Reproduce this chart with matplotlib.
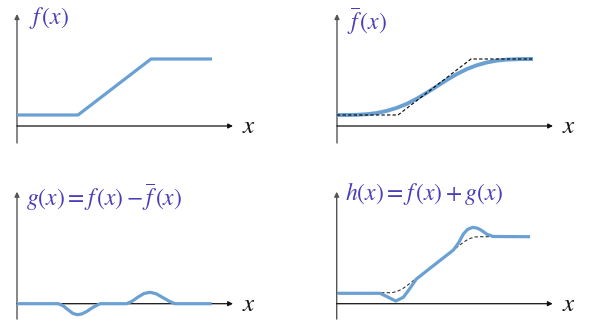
import matplotlib
matplotlib.use("Agg")
import matplotlib.pyplot as plt

plt.rcParams['mathtext.fontset'] = 'stix'

# f(x): flat, ramp, flat
f_x = [0, 3.05, 6.7, 9.75]
f_y = [0.55, 0.55, 3.35, 3.35]

# smoothed f (fbar)
fbar_x = [0, 0.5, 1.0, 1.5, 2.0, 2.5, 3.0, 3.5, 4.0, 4.5, 5.0, 5.5, 6.0, 6.5, 7.0, 7.5, 8.0, 8.5, 9.0, 9.5, 9.8]
fbar_y = [0.55, 0.55, 0.56, 0.59, 0.65, 0.76, 0.91, 1.11, 1.37, 1.67, 1.99, 2.31, 2.6, 2.85, 3.04, 3.18, 3.27, 3.32, 3.34, 3.35, 3.35]

# g(x) = f - fbar (dip at first knee, bump at second)
g_x = [0, 2.07, 2.3, 2.55, 2.8, 3.02, 3.25, 3.5, 3.8, 4.15, 5.48, 5.75, 6.05, 6.35, 6.65, 6.95, 7.25, 7.6, 7.9, 9.73]
g_y = [0, 0, -0.1, -0.3, -0.49, -0.55, -0.51, -0.38, -0.18, 0, 0, 0.12, 0.33, 0.51, 0.57, 0.5, 0.33, 0.13, 0, 0]

# h(x) = f + g
h_x = [0.03, 2.17, 2.58, 2.95, 3.33, 3.6, 3.98, 4.83, 5.83, 6.1, 6.33, 6.55, 6.8, 7.05, 7.25, 7.5, 7.83, 9.67]
h_y = [0.52, 0.52, 0.32, 0.135, 0.32, 0.68, 1.23, 1.9, 2.68, 3.05, 3.48, 3.72, 3.82, 3.77, 3.66, 3.48, 3.36, 3.35]

# lightly rounded f, dashed in the last panel
fr_x = [0, 2.65, 2.85, 3.05, 3.25, 3.45, 6.3, 6.5, 6.7, 6.9, 7.1, 7.8]
fr_y = [0.55, 0.55, 0.569, 0.627, 0.723, 0.857, 3.043, 3.177, 3.273, 3.331, 3.35, 3.35]

titles = [r'$f\,(x)$', r'$\overline{f}\,(x)$',
          r'$g(x) = f\,(x) - \overline{f}\,(x)$', r'$h(x) = f\,(x) + g(x)$']

BLUE = '#6aa0d2'
PURPLE = '#4a3db8'

W, H = 595, 328
fig = plt.figure(figsize=(W / 100, H / 100), dpi=100)

# (left px, top px, origin x px, origin y px) for each quadrant
quads = [(0, 0, 17, 126), (297, 0, 337, 126), (0, 164, 17, 303.7), (297, 164, 336.7, 303.7)]
axes = []
for left, top, ox, oy in quads:
    ax = fig.add_axes([left / W, 1 - (top + 164) / H, 298 / W, 164 / H])
    ax.set_xlim((left - ox) / 20, (left + 298 - ox) / 20)
    ax.set_ylim(-(top + 164 - oy) / 20, (oy - top) / 20)
    ax.axis('off')
    axes.append(ax)

y_bottom = [-0.85, -0.85, -0.77, -0.77]
title_pos = [(0.6, 5.38), (0.5, 5.25), (0.45, 5.32), (0.4, 5.49)]

for i, ax in enumerate(axes):
    ax.annotate('', xy=(0, 5.6), xytext=(0, y_bottom[i]),
                arrowprops=dict(arrowstyle='-|>', color='#555555', lw=1.0, mutation_scale=7, shrinkA=0, shrinkB=0))
    ax.annotate('', xy=(10.8, 0), xytext=(0, 0),
                arrowprops=dict(arrowstyle='-|>', color='#111111', lw=0.9, mutation_scale=7, shrinkA=0, shrinkB=0))
    ax.text(11.6, 0, r'$x$', fontsize=18, color='#111111', ha='center', va='center')
    tx, ty = title_pos[i]
    ax.text(tx, ty, titles[i], fontsize=17, color=PURPLE, ha='left', va='center')

axes[0].plot(f_x, f_y, color=BLUE, lw=2.3, solid_capstyle='butt', zorder=4)

axes[1].plot(fbar_x, fbar_y, color=BLUE, lw=2.8, solid_capstyle='butt', zorder=4)
axes[1].plot(f_x, f_y, color='black', lw=0.8, ls=(0, (3, 2)), zorder=5)

axes[2].plot(g_x, g_y, color=BLUE, lw=2.3, solid_capstyle='butt', zorder=4)

axes[3].plot(fr_x, fr_y, color='#333333', lw=0.8, ls=(0, (3, 2)), zorder=1)
axes[3].plot(h_x, h_y, color=BLUE, lw=2.3, solid_capstyle='butt', zorder=4)

fig.savefig('out.png', dpi=100)
